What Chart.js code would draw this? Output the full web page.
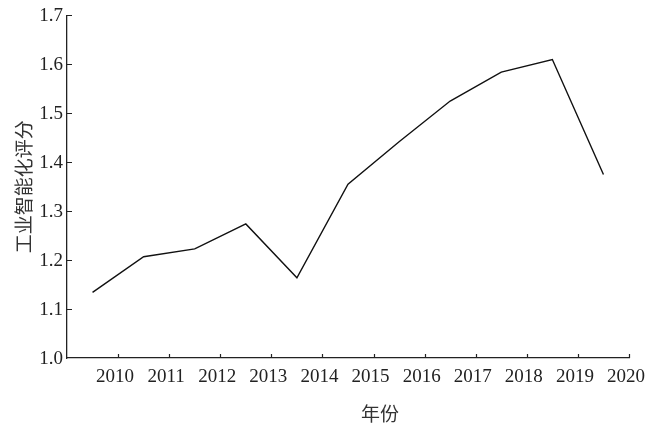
<!DOCTYPE html>
<html>
<head>
<meta charset="utf-8">
<script src="https://cdn.jsdelivr.net/npm/chart.js@4/dist/chart.umd.min.js"></script>
<style>
  html, body { margin: 0; padding: 0; background: #fff; }
  #wrap { width: 665px; height: 430px; }
</style>
</head>
<body>
<div id="wrap"><canvas id="chart"></canvas></div>
<script>
// data (points sit at mid-year)
const years = [2009.5, 2010.5, 2011.5, 2012.5, 2013.5, 2014.5, 2015.5, 2016.5, 2017.5, 2018.5, 2019.5];
const scores = [1.134, 1.207, 1.223, 1.274, 1.164, 1.355, 1.442, 1.525, 1.584, 1.610, 1.375];
const xTicks = [2010, 2011, 2012, 2013, 2014, 2015, 2016, 2017, 2018, 2019, 2020];
const yTicks = [1.1, 1.2, 1.3, 1.4, 1.5, 1.6, 1.7];
const xTitle = "年份";
const yTitle = "工业智能化评分";

const serif = "'Liberation Serif', 'DejaVu Serif', serif";
const cjk = "'Noto Sans CJK SC', sans-serif";

// small ticks pointing into the plot + x title a bit right of centre
const innerTicks = {
    id: "innerTicks",
    afterDraw: (chart) => {
        const ctx = chart.ctx;
        const xs = chart.scales.x;
        const ys = chart.scales.y;
        ctx.save();
        ctx.strokeStyle = "#222";
        ctx.lineWidth = 1.2;
        ctx.beginPath();
        xTicks.forEach((t) => {
            const px = Math.round(xs.getPixelForValue(t)) + 0.5;
            ctx.moveTo(px, ys.bottom);
            ctx.lineTo(px, ys.bottom - 4);
        });
        yTicks.forEach((t) => {
            const py = Math.round(ys.getPixelForValue(t)) + 0.5;
            ctx.moveTo(xs.left, py);
            ctx.lineTo(xs.left + 5, py);
        });
        ctx.stroke();

        ctx.fillStyle = "#333";
        ctx.font = "19px " + cjk;
        ctx.textAlign = "center";
        ctx.textBaseline = "middle";
        ctx.fillText(xTitle, (xs.left + xs.right) / 2 + 32, 414);
        ctx.restore();
    },
};

new Chart(document.getElementById("chart"), {
    type: "line",
    data: {
        datasets: [{
            data: years.map((y, i) => ({ x: y, y: scores[i] })),
            borderColor: "#111",
            borderWidth: 1.4,
            pointRadius: 0,
            tension: 0,
        }],
    },
    options: {
        responsive: true,
        maintainAspectRatio: false,
        animation: false,
        layout: { padding: { top: 13, right: 36, left: 0, bottom: 0 } },
        plugins: { legend: { display: false }, tooltip: { enabled: false } },
        scales: {
            x: {
                type: "linear",
                min: 2009,
                max: 2020,
                grid: { display: false, drawTicks: false },
                border: { display: true, color: "#222", width: 1.3 },
                afterFit: (s) => { s.height = 72; },
                ticks: {
                    stepSize: 1,
                    autoSkip: false,
                    maxRotation: 0,
                    padding: 8,
                    labelOffset: -3,
                    color: "#222",
                    font: { family: serif, size: 19 },
                    callback: (v) => (v === 2009 ? "" : String(v)),
                },
            },
            y: {
                min: 1.0,
                max: 1.7,
                grid: { display: false, drawTicks: false },
                border: { display: true, color: "#222", width: 1.3 },
                afterFit: (s) => { s.width = 67; },
                ticks: {
                    stepSize: 0.1,
                    padding: 4,
                    labelOffset: 1,
                    color: "#222",
                    font: { family: serif, size: 19 },
                    callback: (v) => Number(v).toFixed(1),
                },
                title: {
                    display: true,
                    text: yTitle,
                    color: "#333",
                    font: { family: cjk, size: 19 },
                    padding: { top: 12, bottom: 0 },
                },
            },
        },
    },
    plugins: [innerTicks],
});
</script>
</body>
</html>
